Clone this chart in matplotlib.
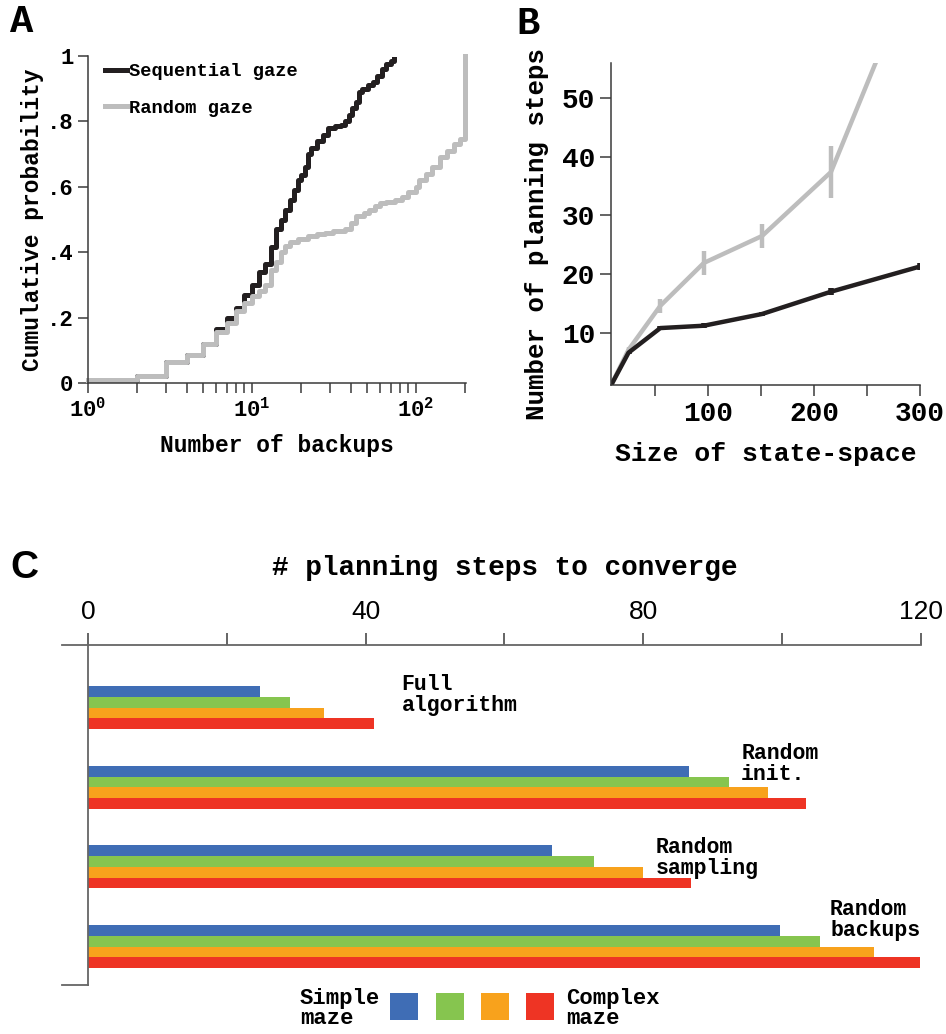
import matplotlib.pyplot as plt
import matplotlib.patches as mpatches
import numpy as np

plt.rcParams['font.family'] = ['Liberation Mono', 'DejaVu Sans']
plt.rcParams['font.weight'] = 'bold'
plt.rcParams['axes.labelweight'] = 'bold'
plt.rcParams['mathtext.fontset'] = 'custom'
plt.rcParams['mathtext.rm'] = 'Liberation Mono:bold'
plt.rcParams['mathtext.it'] = 'Liberation Mono:bold'

# --- panel A: cumulative probability of number of backups
seq_x = [1, 2, 3, 4, 5, 6, 7, 8, 9, 10, 11, 12, 13, 14, 15, 16, 17, 18, 19, 20,
         21, 22, 23, 25, 27, 29, 32, 35, 37, 39, 41, 43, 45, 47, 51, 55, 58, 62,
         66, 70, 74]
seq_p = [0.01, 0.02, 0.065, 0.085, 0.12, 0.165, 0.20, 0.23, 0.27, 0.30, 0.34,
         0.365, 0.415, 0.47, 0.50, 0.53, 0.56, 0.59, 0.62, 0.635, 0.66, 0.70,
         0.72, 0.74, 0.76, 0.78, 0.785, 0.79, 0.80, 0.82, 0.84, 0.86, 0.89,
         0.90, 0.91, 0.92, 0.94, 0.96, 0.975, 0.985, 0.99]
rand_x = [1, 2, 3, 4, 5, 6, 7, 8, 9, 10, 11, 12, 13, 14, 15, 16, 17, 19, 22, 25,
          28, 31, 37, 40, 43, 48, 52, 56, 60, 66, 75, 82, 90, 100, 105, 115,
          125, 140, 155, 170, 185, 200]
rand_p = [0.01, 0.02, 0.065, 0.085, 0.12, 0.155, 0.185, 0.22, 0.245, 0.265,
          0.28, 0.30, 0.345, 0.37, 0.40, 0.42, 0.43, 0.44, 0.45, 0.455, 0.46,
          0.465, 0.47, 0.49, 0.51, 0.52, 0.53, 0.54, 0.55, 0.555, 0.56, 0.57,
          0.585, 0.60, 0.62, 0.64, 0.66, 0.69, 0.71, 0.73, 0.745, 1.0]

# --- panel B: planning steps vs state-space size
size_b = [9, 25, 55, 96, 151, 216, 300]
steps_seq = [1.2, 6.6, 10.8, 11.2, 13.2, 17.0, 21.3]
err_seq = [0, 0.3, 0.4, 0.4, 0.4, 0.6, 0.6]
steps_rand = [1.2, 7.1, 14.6, 21.9, 26.5, 37.4, 74.5]
err_rand = [0, 0.5, 1.2, 2.1, 2.1, 4.5, 6.0]

# --- panel C: steps to converge
conditions = ['Full\nalgorithm', 'Random\ninit.', 'Random\nsampling', 'Random\nbackups']
maze1 = [24.8, 86.6, 66.9, 99.7]   # simple maze
maze2 = [29.1, 92.4, 72.9, 105.5]
maze3 = [34.0, 98.0, 80.0, 113.3]
maze4 = [41.2, 103.5, 86.9, 119.9]  # complex maze
maze_colors = ['#3f6db5', '#86c54f', '#f8a21c', '#ee3424']

black = '#231f20'
grey = '#bdbdbd'
spine_c = '#3a3a3a'

fig = plt.figure(figsize=(9.46, 10.34), dpi=100)

# ---------------- A
axA = fig.add_axes([0.0930, 0.6296, 0.3996, 0.3162])
axA.step(seq_x, seq_p, where='post', color=black, lw=3.6, label='Sequential gaze', clip_on=False)
axA.step(rand_x, rand_p, where='post', color=grey, lw=3.6, label='Random gaze', clip_on=False)
axA.set_xscale('log')
axA.set_xlim(1, 202)
axA.set_ylim(0, 1)
axA.set_yticks([0, .2, .4, .6, .8, 1])
axA.set_yticklabels(['0', '.2', '.4', '.6', '.8', '1'])
axA.set_xticks([1, 10, 100])
axA.tick_params(axis='both', labelsize=16, direction='out', length=7, width=1.1, color=spine_c)
axA.tick_params(axis='x', which='minor', length=7, width=1.1, color=spine_c)
for s in ['top', 'right']:
    axA.spines[s].set_visible(False)
for s in ['left', 'bottom']:
    axA.spines[s].set_color(spine_c)
    axA.spines[s].set_linewidth(1.1)
axA.set_xlabel('Number of backups', fontsize=16.5, labelpad=9)
axA.set_ylabel('Cumulative probability', fontsize=16.5, labelpad=2)
axA.legend(loc='upper left', bbox_to_anchor=(0.0, 1.03), frameon=False, fontsize=13.5,
           handlelength=1.2, handletextpad=0.1, labelspacing=1.05)

# ---------------- B
axB = fig.add_axes([0.6459, 0.6277, 0.3266, 0.3114])
axB.errorbar(size_b, steps_rand, yerr=err_rand, color=grey, lw=3.2, elinewidth=3.2, capsize=0)
axB.errorbar(size_b, steps_seq, yerr=err_seq, color=black, lw=3.2, elinewidth=4, capsize=0)
axB.set_xlim(8.5, 300)
axB.set_ylim(1.1, 56)
axB.set_xticks([50, 100, 150, 200, 250, 300])
axB.set_xticklabels(['', '100', '', '200', '', '300'])
axB.set_yticks([10, 20, 30, 40, 50])
axB.tick_params(axis='both', labelsize=20, direction='out', length=8, width=1.1, color=spine_c)
for s in ['top', 'right']:
    axB.spines[s].set_visible(False)
for s in ['left', 'bottom']:
    axB.spines[s].set_color(spine_c)
    axB.spines[s].set_linewidth(1.1)
axB.set_xlabel('Size of state-space', fontsize=19, labelpad=11)
axB.set_ylabel('Number of planning steps', fontsize=18.5)
axB.yaxis.set_label_coords(-0.20, 0.47)

# ---------------- C
axC = fig.add_axes([0.0655, 0.0474, 0.908, 0.3288])
base = np.arange(len(conditions)) * 7.45
for k, (vals, c) in enumerate(zip([maze1, maze2, maze3, maze4], maze_colors)):
    axC.barh(base + k, vals, height=1.0, color=c, linewidth=0)
axC.set_xlim(-3.75, 120)
axC.set_ylim(27.45, -4.35)
axC.xaxis.tick_top()
axC.set_xticks(range(0, 121, 20))
axC.set_xticklabels(['0', '', '40', '', '80', '', '120'], family='Liberation Sans',
                    fontweight='normal')
axC.tick_params(axis='x', labelsize=19, direction='out', length=9, width=1.1, color=spine_c, pad=6)
axC.set_yticks([])
axC.spines['right'].set_visible(False)
axC.spines['left'].set_position(('data', 0))
axC.spines['bottom'].set_bounds(-3.75, 0)
for s in ['left', 'top', 'bottom']:
    axC.spines[s].set_color('#666666')
    axC.spines[s].set_linewidth(1.3)

label_pos = [(45.2, -1.6), (94.1, 4.8), (81.8, 13.6), (106.9, 19.4)]
for (lx, ly), name in zip(label_pos, conditions):
    axC.text(lx, ly, name, fontsize=15.5, va='top', ha='left', linespacing=1.0)

fig.text(505 / 946, 1 - 568 / 1034, '# planning steps to converge', ha='center', va='center',
         fontsize=20)

# legend for C
fig.text(300 / 946, 1 - 988 / 1034, 'Simple\nmaze', va='top', ha='left', fontsize=16, linespacing=0.95)
fig.text(566 / 946, 1 - 988 / 1034, 'Complex\nmaze', va='top', ha='left', fontsize=16, linespacing=0.95)
for xpx, c in zip([390, 436, 481, 526], maze_colors):
    fig.add_artist(mpatches.Rectangle((xpx / 946, 1 - 1020 / 1034), 28 / 946, 27 / 1034,
                                      transform=fig.transFigure, color=c, lw=0))

# panel letters
fig.text(10 / 946, 1 - 4 / 1034, 'A', fontsize=28, va='top', ha='left')
fig.text(516 / 946, 1 - 6 / 1034, 'B', fontsize=28, va='top', ha='left')
fig.text(10 / 946, 1 - 550 / 1034, 'C', fontsize=28, va='top', ha='left', family='Liberation Sans')

fig.savefig('out.png', dpi=100)
